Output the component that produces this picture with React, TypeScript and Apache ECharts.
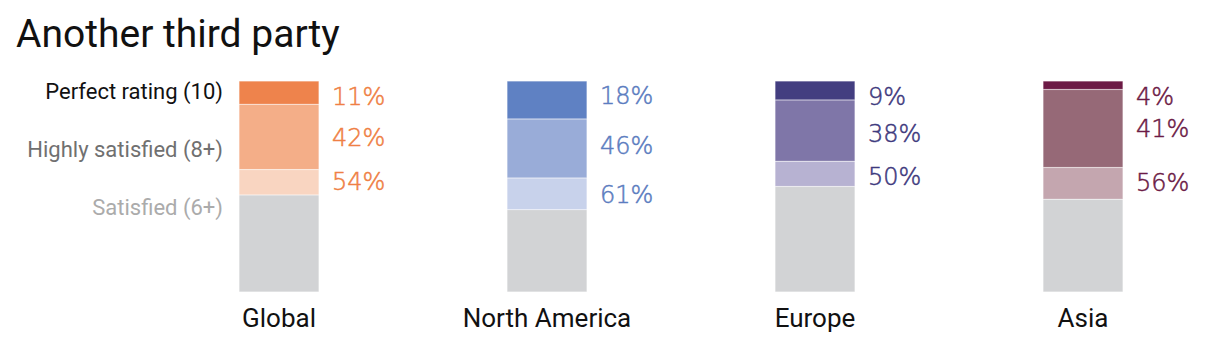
import React, { useEffect, useRef } from "react";
import * as echarts from "echarts";

const categories = ["Global", "North America", "Europe", "Asia"];
const perfectRating = [11, 18, 9, 4];
const highlySatisfied = [42, 46, 38, 41];
const satisfied = [54, 61, 50, 56];

const titleText = "Another third party";
const legendTexts = ["Perfect rating (10)", "Highly satisfied (8+)", "Satisfied (6+)"];

const palette = [
  { label: "#EF7F45", c: ["#EE834C", "#F4AE88", "#F9D5C1"] },
  { label: "#5C7DC0", c: ["#5F81C3", "#99ACD8", "#C8D2EB"] },
  { label: "#3F3A7E", c: ["#433E80", "#7F76A8", "#B7B2D2"] },
  { label: "#6C1B46", c: ["#6C1A45", "#966977", "#C4A6AF"] },
];
const restColor = "#D2D3D5";

// vertical nudges of value labels (style only)
const labelNudge = [
  [4, 1, 0],
  [-4, -3, 1],
  [7, 3, 3],
  [12, 1, 0],
];

const FONT = "Roboto";
const PCT_FONT = "DejaVu Sans";

export default function App() {
  const ref = useRef<HTMLDivElement>(null);
  useEffect(() => {
    document.body.style.margin = "0";
    const chart = echarts.init(ref.current!, null, { renderer: "svg" });
    const segs = [
      perfectRating.map((v) => v),
      highlySatisfied.map((v, i) => v - perfectRating[i]),
      satisfied.map((v, i) => v - highlySatisfied[i]),
      satisfied.map((v) => 100 - v),
    ];
    const labelVals = [perfectRating, highlySatisfied, satisfied];
    const series: any[] = segs.map((arr, s) => ({
      type: "bar",
      stack: "all",
      barWidth: 80,
      silent: true,
      data: arr.map((v, i) => ({
        value: v,
        itemStyle: {
          color: s < 3 ? palette[i].c[s] : restColor,
          borderColor: "rgba(255,255,255,0.35)",
          borderWidth: 0.5,
        },
        label:
          s < 3
            ? {
                show: true,
                position: "right",
                distance: 13,
                offset: [0, labelNudge[i][s]],
                formatter: () => labelVals[s][i] + "%",
                color: palette[i].label,
                textBorderColor: palette[i].label,
                textBorderWidth: 0.5,
                fontSize: 24,
                fontWeight: 200,
                fontFamily: PCT_FONT,
              }
            : { show: false },
      })),
    }));
    chart.setOption({
      animation: false,
      grid: { left: 145, right: 2, top: 81, bottom: 60 },
      xAxis: {
        type: "category",
        data: categories,
        axisLine: { show: false },
        axisTick: { show: false },
        axisLabel: { fontSize: 26, color: "#111", fontFamily: FONT, margin: 13 },
      },
      yAxis: {
        type: "value",
        min: 0,
        max: 100,
        inverse: true,
        show: false,
        splitLine: { show: false },
      },
      graphic: [
        {
          type: "text",
          left: 16,
          top: 14,
          style: { text: titleText, fontSize: 39, fontFamily: FONT, fill: "#111" },
        },
        {
          type: "text",
          x: 223,
          y: 91.5,
          style: { text: legendTexts[0], fontSize: 22, fontFamily: FONT, fill: "#111", align: "right", verticalAlign: "middle" },
        },
        {
          type: "text",
          x: 223,
          y: 149.5,
          style: { text: legendTexts[1], fontSize: 22, fontFamily: FONT, fill: "#707070", align: "right", verticalAlign: "middle" },
        },
        {
          type: "text",
          x: 223,
          y: 207,
          style: { text: legendTexts[2], fontSize: 22, fontFamily: FONT, fill: "#ABABAB", align: "right", verticalAlign: "middle" },
        },
      ],
      series,
    });
    return () => chart.dispose();
  }, []);
  return <div ref={ref} style={{ width: 1219, height: 352 }} />;
}
